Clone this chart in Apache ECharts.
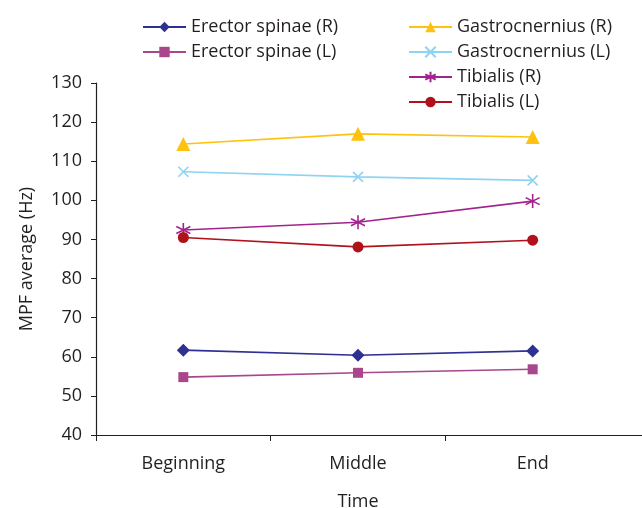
<!DOCTYPE html>
<html><head><meta charset="utf-8">
<script src="https://cdn.jsdelivr.net/npm/echarts@6/dist/echarts.min.js"></script>
<style>html,body{margin:0;padding:0;background:#fff}#c{width:642px;height:508px}</style>
</head><body><div id="c"></div>
<script>
const categories = ['Beginning', 'Middle', 'End'];
const yTicks = [40, 50, 60, 70, 80, 90, 100, 110, 120, 130];
const erectorR = [61.7, 60.4, 61.5];
const erectorL = [54.8, 55.9, 56.8];
const gastroR = [114.4, 117.0, 116.2];
const gastroL = [107.3, 106.0, 105.1];
const tibialisR = [92.4, 94.4, 99.8];
const tibialisL = [90.5, 88.1, 89.8];
const seriesNames = ['Erector spinae (R)', 'Erector spinae (L)', 'Gastrocnernius (R)', 'Gastrocnernius (L)', 'Tibialis (R)', 'Tibialis (L)'];

const FONT = 'Open Sans';
const FS = 18;
const TXT = '#231f20';
const X_PATH = 'path://M0,0L10,10M10,0L0,10';
const AST_PATH = 'path://M5,0L5,10M0.7,2.5L9.3,7.5M0.7,7.5L9.3,2.5';

function mk(name, data, color, symbol, size, stroke) {
  const it = { color: color };
  if (stroke) { it.borderColor = color; it.borderWidth = 1.6; }
  return {
    name: name, type: 'line', data: data,
    xAxisIndex: 0, yAxisIndex: 0,
    symbol: symbol, symbolSize: size,
    lineStyle: { color: color, width: 1.6 },
    itemStyle: it,
    emphasis: { disabled: true },
    animation: false
  };
}

const chart = echarts.init(document.getElementById('c'));
chart.setOption({
  animation: false,
  grid: [
    { left: 96, right: 22, top: 83, bottom: 73, containLabel: false, outerBoundsMode: 'none' },
    { left: 96, right: 0, top: 83, bottom: 73, containLabel: false, outerBoundsMode: 'none' }
  ],
  legend: [
    { data: seriesNames.slice(0, 2), orient: 'vertical', left: 137, top: 12,
      itemWidth: 43, itemHeight: 13, itemGap: 5,
      textStyle: { fontFamily: FONT, fontSize: FS, color: TXT, lineHeight: 20 } },
    { data: seriesNames.slice(2), orient: 'vertical', left: 403, top: 12,
      itemWidth: 43, itemHeight: 13, itemGap: 5,
      textStyle: { fontFamily: FONT, fontSize: FS, color: TXT, lineHeight: 20 } }
  ],
  xAxis: [
    {
      gridIndex: 0, type: 'category', data: categories, boundaryGap: true,
      name: 'Time', nameLocation: 'middle', nameGap: 58,
      nameTextStyle: { fontFamily: FONT, fontSize: FS, color: TXT },
      axisLine: { show: false },
      axisTick: { show: false },
      axisLabel: { fontFamily: FONT, fontSize: FS, color: TXT, margin: 20 },
      splitLine: { show: false }
    },
    {
      gridIndex: 1, type: 'value', min: 0, max: 546 / (524 / 3),
      axisLine: { show: true, onZero: false, lineStyle: { color: '#231f20', width: 1.2 } },
      axisTick: { show: true, length: 6, customValues: [0, 1, 2], lineStyle: { color: '#231f20' } },
      axisLabel: { show: false },
      splitLine: { show: false }
    }
  ],
  yAxis: [
    {
      gridIndex: 0, type: 'value', min: 40, max: 130, interval: 10,
      name: 'MPF average (Hz)', nameLocation: 'middle', nameGap: 60,
      nameTextStyle: { fontFamily: FONT, fontSize: FS, color: TXT },
      axisLine: { show: true, lineStyle: { color: '#231f20', width: 1.2 } },
      axisTick: { show: true, length: 5, lineStyle: { color: '#231f20' } },
      axisLabel: { fontFamily: FONT, fontSize: FS, color: TXT, margin: 14,
        formatter: function (v) { return yTicks.indexOf(v) >= 0 ? String(v) : ''; } },
      splitLine: { show: false }
    },
    {
      gridIndex: 1, type: 'value', show: false, min: 0, max: 1
    }
  ],
  series: [
    mk(seriesNames[0], erectorR, '#2e3192', 'diamond', 13, false),
    mk(seriesNames[1], erectorL, '#a8478c', 'rect', 10, false),
    mk(seriesNames[2], gastroR, '#ffc20e', 'triangle', 14, false),
    mk(seriesNames[3], gastroL, '#8ed3f2', X_PATH, 10, true),
    mk(seriesNames[4], tibialisR, '#a3238e', AST_PATH, 14, true),
    mk(seriesNames[5], tibialisL, '#b0121b', 'circle', 11, false)
  ]
});
</script></body></html>
